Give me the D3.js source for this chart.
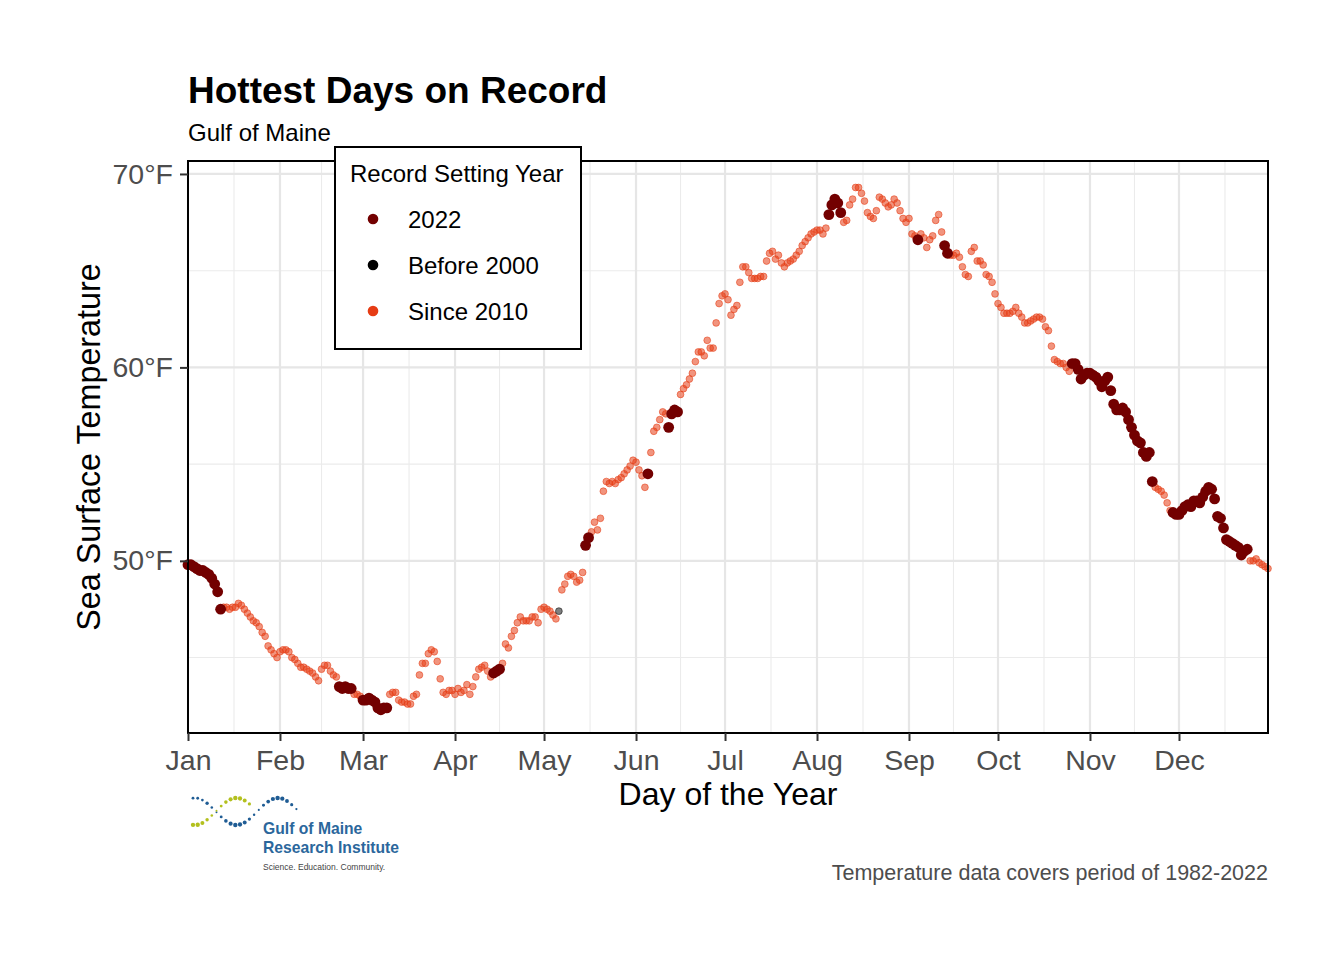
<!DOCTYPE html>
<html>
<head>
<meta charset="utf-8">
<script src="https://cdn.jsdelivr.net/npm/d3@7"></script>
<style>
  body { margin: 0; background: #fff; }
  text { font-family: "Liberation Sans", Arial, Helvetica, sans-serif; }
</style>
</head>
<body>
<div id="chart"></div>
<script>
// Record sea surface temperature (°F) for each day of the year, one array per month
var jan = [49.8, 49.8, 49.7, 49.6, 49.5, 49.5, 49.4, 49.3, 49.1, 48.8, 48.4, 47.5, 47.6, 47.6, 47.5, 47.6, 47.6, 47.8, 47.7, 47.5, 47.3, 47.1, 46.9, 46.8, 46.6, 46.3, 46.1, 45.6, 45.4, 45.2, 45.0];
var feb = [45.3, 45.4, 45.4, 45.3, 45.0, 44.9, 44.7, 44.5, 44.5, 44.4, 44.3, 44.2, 44.0, 43.8, 44.4, 44.6, 44.6, 44.3, 44.1, 44.0, 43.5, 43.4, 43.5, 43.4, 43.4, 43.1, 43.1, 43.0];
var mar = [42.8, 42.8, 42.9, 42.8, 42.7, 42.4, 42.3, 42.4, 42.4, 43.1, 43.2, 43.2, 42.8, 42.7, 42.7, 42.6, 42.6, 43.0, 43.1, 44.1, 44.7, 44.7, 45.2, 45.4, 45.3, 44.8, 43.9, 43.2, 43.1, 43.3, 43.3];
var apr = [43.1, 43.4, 43.2, 43.3, 43.6, 43.1, 43.5, 44.0, 44.4, 44.5, 44.6, 44.3, 44.0, 44.2, 44.3, 44.4, 44.7, 45.7, 45.5, 46.1, 46.4, 46.8, 47.1, 46.9, 46.9, 46.9, 47.1, 47.1, 46.8, 47.5];
var may = [47.6, 47.5, 47.4, 47.2, 47.0, 47.4, 48.5, 48.8, 49.2, 49.3, 49.2, 48.9, 49.0, 49.4, 50.8, 51.2, 51.5, 52.0, 51.6, 52.2, 53.6, 54.1, 54.0, 54.1, 54.0, 54.2, 54.3, 54.5, 54.7, 54.9, 55.2];
var jun = [55.1, 54.7, 54.4, 53.8, 54.5, 55.6, 56.7, 56.9, 57.3, 57.7, 57.6, 56.9, 57.6, 57.8, 57.7, 58.6, 58.9, 59.1, 59.4, 59.7, 60.3, 60.8, 60.8, 60.6, 61.4, 61.0, 61.0, 62.3, 63.3, 63.7];
var jul = [63.8, 63.5, 62.7, 63.0, 63.2, 64.4, 65.2, 65.2, 64.9, 64.6, 64.6, 64.6, 64.7, 64.7, 65.5, 65.9, 66.0, 65.6, 65.8, 65.4, 65.2, 65.4, 65.5, 65.6, 65.8, 66.0, 66.3, 66.5, 66.7, 66.9, 67.0];
var aug = [67.1, 67.1, 66.9, 67.2, 67.9, 68.4, 68.7, 68.5, 68.0, 67.5, 67.6, 68.4, 68.7, 69.3, 69.3, 69.0, 68.6, 68.0, 67.8, 67.7, 68.1, 68.8, 68.7, 68.5, 68.3, 68.4, 68.7, 68.5, 68.1, 67.7, 67.5];
var sep = [67.7, 66.9, 66.8, 66.6, 66.9, 66.7, 66.2, 66.6, 66.8, 67.6, 67.9, 67.0, 66.3, 65.9, 65.8, 65.8, 65.9, 65.7, 65.2, 64.8, 64.7, 66.0, 66.2, 65.5, 65.5, 65.3, 64.8, 64.7, 64.4, 63.8];
var oct = [63.3, 63.1, 62.8, 62.8, 62.8, 62.9, 63.1, 62.8, 62.6, 62.3, 62.3, 62.4, 62.5, 62.6, 62.6, 62.5, 62.1, 61.9, 61.1, 60.4, 60.3, 60.2, 60.2, 60.0, 59.8, 60.2, 60.2, 59.9, 59.4, 59.6, 59.7];
var nov = [59.7, 59.6, 59.5, 59.3, 59.0, 59.3, 59.5, 58.8, 58.1, 57.8, 57.8, 57.9, 57.7, 57.3, 56.9, 56.5, 56.2, 56.1, 55.6, 55.4, 55.6, 54.1, 53.8, 53.7, 53.6, 53.4, 53.0, 52.6, 52.5, 52.4];
var dec = [52.4, 52.6, 52.8, 52.9, 52.8, 53.1, 53.1, 53.0, 53.3, 53.6, 53.8, 53.7, 53.2, 52.3, 52.2, 51.7, 51.1, 51.0, 50.9, 50.8, 50.7, 50.3, 50.5, 50.6, 50.0, 50.0, 50.1, 49.9, 49.8, 49.7, 49.6];
var monthTemps = [jan, feb, mar, apr, may, jun, jul, aug, sep, oct, nov, dec];

// day-of-year ranges whose record was set in 2022, and days still held from before 2000
var ranges2022 = [[1, 12], [52, 56], [60, 68], [104, 106], [135, 136], [156, 156], [163, 166], [217, 221], [247, 247], [256, 257], [299, 326], [333, 358]];
var daysBefore2000 = [126];

var yTicks = [50, 60, 70];
var yMinorTicks = [45, 55, 65];
var legendLabels = ["2022", "Before 2000", "Since 2010"];

var colors = {"2022": "#730000", "Before 2000": "#000000", "Since 2010": "#e63c14"};

// build one record per day
var data = [];
var dayNum = 0;
monthTemps.forEach(function(temps, m) {
  temps.forEach(function(t, i) {
    dayNum++;
    var group = "Since 2010";
    if (daysBefore2000.indexOf(dayNum) >= 0) group = "Before 2000";
    else if (ranges2022.some(function(r) { return dayNum >= r[0] && dayNum <= r[1]; })) group = "2022";
    data.push({date: new Date(2022, m, i + 1), temp: t, group: group});
  });
});

var width = 1344, height = 960;
var panel = {left: 188, top: 161, right: 1268, bottom: 733};

var svg = d3.select("#chart").append("svg")
    .attr("width", width)
    .attr("height", height);

var x = d3.scaleTime()
    .domain([new Date(2022, 0, 1), new Date(2022, 11, 31)])
    .range([panel.left, panel.right]);

var y = d3.scaleLinear()
    .domain([41.1, 70.67])
    .range([panel.bottom, panel.top]);

var monthStarts = d3.range(12).map(function(m) { return new Date(2022, m, 1); });
var monthMids = d3.range(12).map(function(m) {
  return (x(new Date(2022, m, 1)) + x(new Date(2022, m + 1, 1))) / 2;
});

// gridlines
var grid = svg.append("g");
grid.selectAll(".vminor").data(monthMids).enter().append("line")
    .attr("x1", d => d).attr("x2", d => d)
    .attr("y1", panel.top).attr("y2", panel.bottom)
    .attr("stroke", "#ebebeb").attr("stroke-width", 1.1);
grid.selectAll(".hminor").data(yMinorTicks).enter().append("line")
    .attr("x1", panel.left).attr("x2", panel.right)
    .attr("y1", d => y(d)).attr("y2", d => y(d))
    .attr("stroke", "#ebebeb").attr("stroke-width", 1.1);
grid.selectAll(".vmajor").data(monthStarts).enter().append("line")
    .attr("x1", d => x(d)).attr("x2", d => x(d))
    .attr("y1", panel.top).attr("y2", panel.bottom)
    .attr("stroke", "#e6e6e6").attr("stroke-width", 2.2);
grid.selectAll(".hmajor").data(yTicks).enter().append("line")
    .attr("x1", panel.left).attr("x2", panel.right)
    .attr("y1", d => y(d)).attr("y2", d => y(d))
    .attr("stroke", "#e6e6e6").attr("stroke-width", 2.2);

// points: light ones first, 2022 on top
var pts = svg.append("g");
pts.selectAll(".since").data(data.filter(d => d.group === "Since 2010")).enter().append("circle")
    .attr("cx", d => x(d.date))
    .attr("cy", d => y(d.temp))
    .attr("r", 3.4)
    .attr("fill", colors["Since 2010"]).attr("fill-opacity", 0.55)
    .attr("stroke", colors["Since 2010"]).attr("stroke-opacity", 0.55).attr("stroke-width", 1);
pts.selectAll(".before").data(data.filter(d => d.group === "Before 2000")).enter().append("circle")
    .attr("cx", d => x(d.date))
    .attr("cy", d => y(d.temp))
    .attr("r", 3.4)
    .attr("fill", "#000").attr("fill-opacity", 0.5)
    .attr("stroke", "#000").attr("stroke-opacity", 0.5).attr("stroke-width", 1);
pts.selectAll(".y2022").data(data.filter(d => d.group === "2022")).enter().append("circle")
    .attr("cx", d => x(d.date))
    .attr("cy", d => y(d.temp))
    .attr("r", 5.4)
    .attr("fill", colors["2022"]);

// panel border
svg.append("rect")
    .attr("x", panel.left).attr("y", panel.top)
    .attr("width", panel.right - panel.left).attr("height", panel.bottom - panel.top)
    .attr("fill", "none").attr("stroke", "#000").attr("stroke-width", 2);

// axes
var xAxis = svg.append("g")
    .attr("transform", "translate(0," + panel.bottom + ")")
    .call(d3.axisBottom(x).tickValues(monthStarts).tickFormat(d3.timeFormat("%b")).tickSize(8).tickPadding(9));
var yAxis = svg.append("g")
    .attr("transform", "translate(" + panel.left + ",0)")
    .call(d3.axisLeft(y).tickValues(yTicks).tickFormat(d => d + "°F").tickSize(8).tickPadding(7));
[xAxis, yAxis].forEach(function(ax) {
  ax.select(".domain").remove();
  ax.selectAll(".tick line").attr("stroke", "#333").attr("stroke-width", 2);
  ax.selectAll(".tick text").attr("fill", "#4d4d4d").attr("font-size", "28.5px")
      .attr("font-family", "'Liberation Sans', Arial, sans-serif");
});

// titles
svg.append("text").attr("x", 188).attr("y", 103)
    .attr("font-size", "37px").attr("font-weight", "bold").attr("fill", "#000")
    .text("Hottest Days on Record");
svg.append("text").attr("x", 188).attr("y", 141)
    .attr("font-size", "24px").attr("fill", "#000")
    .text("Gulf of Maine");
svg.append("text")
    .attr("x", (panel.left + panel.right) / 2).attr("y", 805)
    .attr("text-anchor", "middle").attr("font-size", "32px").attr("fill", "#000")
    .text("Day of the Year");
svg.append("text")
    .attr("transform", "translate(100," + ((panel.top + panel.bottom) / 2) + ") rotate(-90)")
    .attr("text-anchor", "middle").attr("font-size", "32.3px").attr("fill", "#000")
    .text("Sea Surface Temperature");
svg.append("text").attr("x", 1268).attr("y", 880)
    .attr("text-anchor", "end").attr("font-size", "21.5px").attr("fill", "#4d4d4d")
    .text("Temperature data covers period of 1982-2022");

// legend
var legend = svg.append("g").attr("transform", "translate(335,147)");
legend.append("rect")
    .attr("width", 246).attr("height", 202)
    .attr("fill", "#fff").attr("stroke", "#000").attr("stroke-width", 2);
legend.append("text").attr("x", 15).attr("y", 35)
    .attr("font-size", "24px").attr("fill", "#000")
    .text("Record Setting Year");
legendLabels.forEach(function(lab, i) {
  legend.append("circle").attr("cx", 38).attr("cy", 72 + i * 46).attr("r", 5.3)
      .attr("fill", colors[lab]);
  legend.append("text").attr("x", 73).attr("y", 72 + i * 46 + 8.5)
      .attr("font-size", "24px").attr("fill", "#000")
      .text(lab);
});

// Gulf of Maine Research Institute logo
var logo = svg.append("g");
var blueDots = d3.range(193, 297, 4.7);
var greenDots = d3.range(193, 254, 4.7);
logo.selectAll(".bd").data(blueDots).enter().append("circle")
    .attr("cx", d => d)
    .attr("cy", d => 811.5 - 13.5 * Math.cos(2 * Math.PI * (d - 195) / 83))
    .attr("r", d => 0.9 + 1.3 * Math.abs(Math.cos(2 * Math.PI * (d - 195) / 83)) * (d < 205 ? 0.4 : 1))
    .attr("fill", "#1f5c94");
logo.selectAll(".gd").data(greenDots).enter().append("circle")
    .attr("cx", d => d)
    .attr("cy", d => 811.5 + 13.5 * Math.cos(2 * Math.PI * (d - 195) / 83))
    .attr("r", d => 0.9 + 1.3 * Math.abs(Math.cos(2 * Math.PI * (d - 195) / 83)))
    .attr("fill", "#b3c01e");
logo.append("text").attr("x", 263).attr("y", 834)
    .attr("font-size", "15.7px").attr("font-weight", "bold").attr("fill", "#2b679c")
    .text("Gulf of Maine");
logo.append("text").attr("x", 263).attr("y", 853)
    .attr("font-size", "15.7px").attr("font-weight", "bold").attr("fill", "#2b679c")
    .text("Research Institute");
logo.append("text").attr("x", 263).attr("y", 870)
    .attr("font-size", "8.5px").attr("fill", "#444")
    .text("Science. Education. Community.");
</script>
</body>
</html>
